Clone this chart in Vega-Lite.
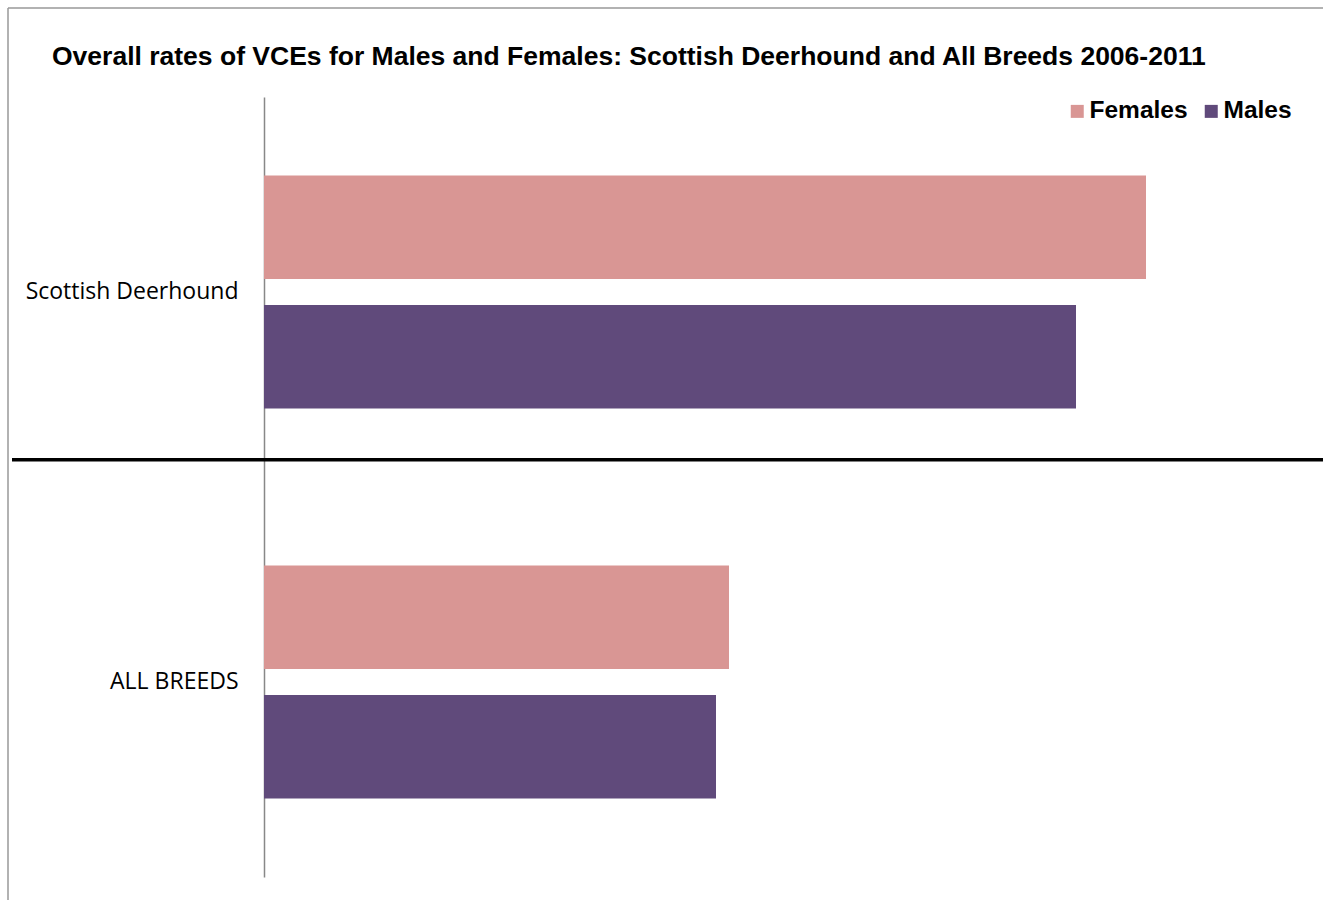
{
  "$schema": "https://vega.github.io/schema/vega-lite/v6.json",
  "width": 1059,
  "height": 780,
  "autosize": {"type": "none"},
  "padding": {"left": 264, "top": 97, "right": 0, "bottom": 23},
  "background": "white",
  "config": {"view": {"stroke": null}},
  "title": {
    "text": "Overall rates of VCEs for Males and Females: Scottish Deerhound and All Breeds 2006-2011",
    "anchor": "start",
    "frame": "group",
    "dx": -212,
    "offset": -63,
    "font": "Liberation Sans",
    "fontSize": 26.5,
    "fontWeight": "bold",
    "color": "black"
  },
  "data": {
    "values": [
      {"breed": "Scottish Deerhound", "sex": "Females", "rate": 882},
      {"breed": "Scottish Deerhound", "sex": "Males", "rate": 812},
      {"breed": "ALL BREEDS", "sex": "Females", "rate": 465},
      {"breed": "ALL BREEDS", "sex": "Males", "rate": 452}
    ]
  },
  "layer": [
    {
      "mark": {"type": "bar"},
      "encoding": {
        "y": {
          "field": "breed",
          "type": "nominal",
          "sort": ["Scottish Deerhound", "ALL BREEDS"],
          "scale": {"paddingInner": 0, "paddingOuter": 0},
          "axis": {
            "title": null,
            "ticks": false,
            "domain": true,
            "domainColor": "#888888",
            "domainWidth": 1.5,
            "labelFont": "Open Sans",
            "labelFontSize": 23,
            "labelColor": "black",
            "labelPadding": 26,
            "labelLimit": 0
          }
        },
        "yOffset": {
          "field": "sex",
          "type": "nominal",
          "sort": ["Females", "Males"],
          "scale": {"paddingInner": 0.2, "paddingOuter": 0.606}
        },
        "x": {
          "field": "rate",
          "type": "quantitative",
          "scale": {"domain": [0, 1059], "nice": false},
          "axis": null
        },
        "color": {
          "field": "sex",
          "type": "nominal",
          "sort": ["Females", "Males"],
          "scale": {"domain": ["Females", "Males"], "range": ["#D99694", "#604A7B"]},
          "legend": {
            "title": null,
            "orient": "none",
            "legendX": 801,
            "legendY": 2,
            "direction": "horizontal",
            "symbolType": "square",
            "symbolSize": 169,
            "symbolStrokeWidth": 0,
            "labelFont": "Liberation Sans",
            "labelFontSize": 24.5,
            "labelFontWeight": "bold",
            "labelColor": "black",
            "labelOffset": 0,
            "columnPadding": 11
          }
        }
      }
    },
    {
      "data": {"values": [{"line": "divider"}]},
      "mark": {"type": "rule", "color": "black", "strokeWidth": 3.5},
      "encoding": {
        "y": {"datum": "Scottish Deerhound", "type": "nominal", "bandPosition": 0.93},
        "x": {"datum": -252, "type": "quantitative"},
        "x2": {"datum": 1059}
      }
    },
    {
      "data": {"values": [{"line": "top border"}]},
      "mark": {"type": "rule", "color": "#999999", "strokeWidth": 1.5},
      "encoding": {
        "y": {"datum": "Scottish Deerhound", "type": "nominal", "bandPosition": -0.2282},
        "x": {"datum": -256, "type": "quantitative"},
        "x2": {"datum": 1059}
      }
    },
    {
      "data": {"values": [{"line": "left border"}]},
      "mark": {"type": "rule", "color": "#999999", "strokeWidth": 1.5},
      "encoding": {
        "x": {"datum": -256, "type": "quantitative"},
        "y": {"datum": "Scottish Deerhound", "type": "nominal", "bandPosition": -0.2282},
        "y2": {"datum": "ALL BREEDS", "bandPosition": 1.059}
      }
    }
  ]
}
